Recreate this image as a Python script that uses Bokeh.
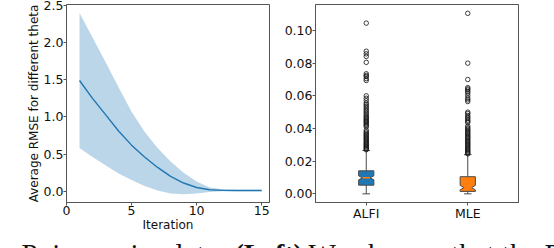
from bokeh.plotting import figure
from bokeh.layouts import column, row
from bokeh.models import FixedTicker, PrintfTickFormatter, Label, Range1d
from bokeh.embed import file_html
from bokeh.resources import INLINE

# ---------------- data ----------------
iterations = list(range(1, 16))
rmse_mean = [1.49, 1.25, 1.03, 0.81, 0.62, 0.46, 0.32, 0.20, 0.11, 0.05, 0.02, 0.011, 0.009, 0.009, 0.009]
rmse_upper = [2.40, 2.07, 1.74, 1.40, 1.07, 0.80, 0.58, 0.40, 0.25, 0.13, 0.05, 0.025, 0.02, 0.02, 0.02]
rmse_lower = [0.58, 0.46, 0.35, 0.24, 0.15, 0.07, 0.01, -0.03, -0.04, -0.03, -0.01, 0.0, 0.0, 0.0, 0.0]
x_ticks_left = [0, 5, 10, 15]
y_ticks_left = [0.0, 0.5, 1.0, 1.5, 2.0, 2.5]

methods = ["ALFI", "MLE"]
box_q1 = [0.0053, 0.0015]
box_q3 = [0.0141, 0.0105]
box_median = [0.0098, 0.0038]
notch_lo = [0.0086, 0.0024]
notch_hi = [0.0110, 0.0052]
whisker_lo = [0.0, 0.0]
whisker_hi = [0.0265, 0.0240]
outliers_alfi = [0.1045, 0.0873, 0.0857, 0.0841, 0.0805, 0.0735, 0.0725, 0.0718, 0.0705, 0.0694,
                 0.0600, 0.0585, 0.0570, 0.0555, 0.0545, 0.0535, 0.0525, 0.0515, 0.0505, 0.0495,
                 0.0485, 0.0475, 0.0468, 0.0460, 0.0453, 0.0446, 0.0440, 0.0433, 0.0425, 0.0418,
                 0.0410, 0.0390, 0.0380, 0.0372, 0.0365, 0.0358, 0.0350, 0.0343, 0.0336, 0.0330,
                 0.0323, 0.0316, 0.0310, 0.0304, 0.0298, 0.0292, 0.0286, 0.0280, 0.0275, 0.0270]
outliers_mle = [0.1105, 0.0800, 0.0700, 0.0650, 0.0642, 0.0635, 0.0625, 0.0615, 0.0600, 0.0585,
                0.0575, 0.0565, 0.0500, 0.0492, 0.0480, 0.0470, 0.0462, 0.0452, 0.0445, 0.0437,
                0.0415, 0.0405, 0.0398, 0.0390, 0.0383, 0.0375, 0.0368, 0.0360, 0.0352, 0.0345,
                0.0338, 0.0330, 0.0323, 0.0316, 0.0309, 0.0302, 0.0295, 0.0288, 0.0281, 0.0274,
                0.0268, 0.0262, 0.0256, 0.0250, 0.0245]
y_ticks_right = [0.00, 0.02, 0.04, 0.06, 0.08, 0.10]

caption_regular_1 = "e Poisson simulator."
caption_bold = "(Left)"
caption_regular_2 = "We observe that the P"

# ---------------- style ----------------
FONT = "DejaVu Sans"
TICK_FS = "12.5px"
LABEL_FS = "12px"
SPINE = "#555555"
C_BLUE = "#1f77b4"
C_ORANGE = "#ff7f0e"
BOX_EDGE = "#4a4a4a"


def style_axes(p):
    p.outline_line_color = SPINE
    p.outline_line_width = 1
    p.grid.visible = False
    for ax in p.axis:
        ax.axis_line_color = SPINE
        ax.major_tick_line_color = SPINE
        ax.minor_tick_line_color = None
        ax.major_tick_in = 0
        ax.major_tick_out = 3
        ax.major_label_text_font = FONT
        ax.major_label_text_font_size = TICK_FS
        ax.major_label_text_color = "#111111"
        ax.major_label_standoff = 0
        ax.axis_label_text_font = FONT
        ax.axis_label_text_font_size = LABEL_FS
        ax.axis_label_text_font_style = "normal"
        ax.axis_label_text_color = "#111111"
        ax.axis_label_standoff = 0


H = 234
# ---------------- left plot ----------------
p1 = figure(width=280, height=H, output_backend="svg", toolbar_location=None,
            x_range=Range1d(0, 15.6), y_range=Range1d(-0.152, 2.513),
            min_border_left=66, min_border_right=11, min_border_top=4, min_border_bottom=32)
p1.varea(x=iterations, y1=rmse_lower, y2=rmse_upper, fill_color=C_BLUE, fill_alpha=0.3)
p1.line(x=iterations, y=rmse_mean, line_color=C_BLUE, line_width=1.4)
style_axes(p1)
p1.xaxis.ticker = FixedTicker(ticks=x_ticks_left)
p1.yaxis.ticker = FixedTicker(ticks=y_ticks_left)
p1.yaxis.formatter = PrintfTickFormatter(format="%.1f")
p1.xaxis.axis_label = "Iteration"
p1.yaxis.axis_label = "Average RMSE for different theta"

# ---------------- right plot ----------------
p2 = figure(width=274, height=H, output_backend="svg", toolbar_location=None,
            x_range=Range1d(0.5, 2.5), y_range=Range1d(-0.0053, 0.1159),
            min_border_left=35, min_border_right=36, min_border_top=4, min_border_bottom=32)
style_axes(p2)

W = 0.15
positions = [i + 1 for i in range(len(methods))]
colors = [C_BLUE, C_ORANGE]
xs, ys = [], []
for i, pos in enumerate(positions):
    bl, br = pos - W / 2, pos + W / 2
    cl, cr = pos - W / 4, pos + W / 4
    xs.append([bl, br, br, cr, br, br, bl, bl, cl, bl])
    ys.append([box_q1[i], box_q1[i], notch_lo[i], box_median[i], notch_hi[i],
               box_q3[i], box_q3[i], notch_hi[i], box_median[i], notch_lo[i]])

# whiskers
p2.segment(x0=positions, y0=box_q1, x1=positions, y1=whisker_lo, line_color=BOX_EDGE, line_width=1)
p2.segment(x0=positions, y0=box_q3, x1=positions, y1=whisker_hi, line_color=BOX_EDGE, line_width=1)
# caps
capl = [p - W / 4 for p in positions]
capr = [p + W / 4 for p in positions]
p2.segment(x0=capl, y0=whisker_lo, x1=capr, y1=whisker_lo, line_color=BOX_EDGE, line_width=1)
p2.segment(x0=capl, y0=whisker_hi, x1=capr, y1=whisker_hi, line_color=BOX_EDGE, line_width=1)
# boxes
p2.patches(xs=xs, ys=ys, fill_color=colors, line_color=BOX_EDGE, line_width=1)
# medians
p2.segment(x0=capl, y0=box_median, x1=capr, y1=box_median, line_color=C_ORANGE, line_width=1.5)
# outliers
p2.scatter(x=[positions[0]] * len(outliers_alfi), y=outliers_alfi, size=4.5,
           fill_color=None, line_color="#111111", line_width=0.8)
p2.scatter(x=[positions[1]] * len(outliers_mle), y=outliers_mle, size=4.5,
           fill_color=None, line_color="#111111", line_width=0.8)

p2.xaxis.ticker = FixedTicker(ticks=positions)
p2.xaxis.major_label_overrides = {pos: m for pos, m in zip(positions, methods)}
p2.yaxis.ticker = FixedTicker(ticks=y_ticks_right)
p2.yaxis.formatter = PrintfTickFormatter(format="%.2f")

# ---------------- caption strip ----------------
CAP_H = 14
p3 = figure(width=554, height=CAP_H, output_backend="svg", toolbar_location=None,
            min_border=0, x_range=Range1d(0, 554), y_range=Range1d(0, CAP_H))
p3.axis.visible = False
p3.grid.visible = False
p3.outline_line_color = None
CAP_FONT = "Liberation Serif"
CAP_FS = "29px"
p3.add_layout(Label(x=1, y=-5, x_units="screen", y_units="screen", text=caption_regular_1,
                    text_font=CAP_FONT, text_font_size=CAP_FS, text_color="#111111",
                    text_baseline="alphabetic"))
p3.add_layout(Label(x=234, y=-5, x_units="screen", y_units="screen", text=caption_bold,
                    text_font=CAP_FONT, text_font_size="28px", text_font_style="bold",
                    text_color="#111111", text_baseline="alphabetic"))
p3.add_layout(Label(x=308, y=-5, x_units="screen", y_units="screen", text=caption_regular_2,
                    text_font=CAP_FONT, text_font_size=CAP_FS, text_color="#111111",
                    text_baseline="alphabetic"))

layout = column(row(p1, p2), p3)
open("out.html", "w").write(file_html(layout, INLINE))
